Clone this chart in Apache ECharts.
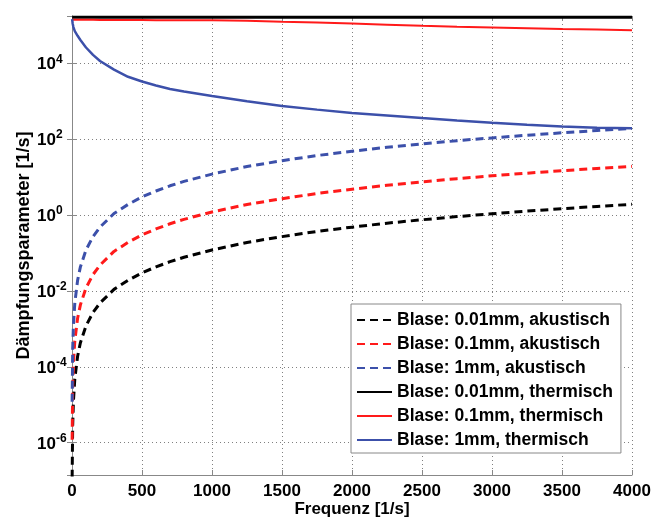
<!DOCTYPE html>
<html>
<head>
	<meta charset="UTF-8">
	<title>Dämpfungsparameter</title>
	<style type="text/css">
		html, body {
			margin: 0;
			padding: 0;
			background: #fff;
		}
		#chart {
			width: 667px;
			height: 518px;
		}
	</style>
</head>
<body>
	<div id="chart"></div>

	<script type="text/javascript" src="https://cdn.jsdelivr.net/npm/echarts@6/dist/echarts.min.js"></script>
	<script type="text/javascript">
		// Frequenz [1/s]
		var freq = [1, 5, 10, 20, 40, 60, 100, 150, 200, 300, 400, 500, 600, 700, 800, 1000,
			1250, 1500, 1750, 2000, 2250, 2500, 2750, 3000, 3250, 3500, 3750, 4000];

		// akustisch (gestrichelt)
		var akust001 = [1.2e-7, 3e-6, 1.2e-5, 4.8e-5, 1.9e-4, 4.3e-4, 1.2e-3, 2.7e-3, 4.8e-3, 0.011, 0.019, 0.030,
			0.043, 0.059, 0.077, 0.12, 0.19, 0.27, 0.37, 0.48, 0.61, 0.75, 0.91, 1.08, 1.27, 1.47, 1.69, 1.92];
		var akust01 = [1.2e-6, 3e-5, 1.2e-4, 4.8e-4, 1.9e-3, 4.3e-3, 0.012, 0.027, 0.048, 0.11, 0.19, 0.30,
			0.43, 0.59, 0.77, 1.2, 1.9, 2.7, 3.7, 4.8, 6.1, 7.5, 9.1, 10.8, 12.7, 14.7, 16.9, 19.2];
		var akust1 = [1.2e-5, 3e-4, 1.2e-3, 4.8e-3, 0.019, 0.043, 0.12, 0.27, 0.48, 1.1, 1.9, 3.0,
			4.3, 5.9, 7.7, 12, 19, 27, 37, 48, 61, 75, 91, 108, 127, 147, 169, 192];

		// thermisch (durchgezogen)
		var therm001 = [1.63e5, 1.63e5, 1.63e5, 1.63e5, 1.63e5, 1.63e5, 1.63e5, 1.63e5, 1.63e5, 1.63e5, 1.63e5, 1.63e5,
			1.63e5, 1.63e5, 1.63e5, 1.63e5, 1.63e5, 1.63e5, 1.63e5, 1.63e5, 1.63e5, 1.63e5, 1.63e5, 1.63e5, 1.63e5, 1.63e5, 1.63e5, 1.63e5];
		var therm01 = [1.40e5, 1.40e5, 1.40e5, 1.40e5, 1.40e5, 1.40e5, 1.40e5, 1.40e5, 1.39e5, 1.39e5, 1.38e5, 1.38e5,
			1.37e5, 1.37e5, 1.36e5, 1.36e5, 1.31e5, 1.24e5, 1.18e5, 1.12e5, 1.04e5, 9.7e4, 9.2e4, 8.8e4, 8.4e4, 8.0e4, 7.7e4, 7.4e4];
		var therm1 = [1.45e5, 1.1e5, 9.0e4, 7.0e4, 5.3e4, 4.1e4, 2.6e4, 1.66e4, 1.15e4, 6.8e3, 4.4e3, 3.3e3,
			2.6e3, 2.1e3, 1.8e3, 1.38e3, 1.0e3, 7.5e2, 6.0e2, 4.9e2, 4.2e2, 3.6e2, 3.1e2, 2.7e2, 2.4e2, 2.15e2, 2.0e2, 1.95e2];

		var names = [
			'Blase: 0.01mm, akustisch',
			'Blase: 0.1mm, akustisch',
			'Blase: 1mm, akustisch',
			'Blase: 0.01mm, thermisch',
			'Blase: 0.1mm, thermisch',
			'Blase: 1mm, thermisch'
		];

		var xTicks = [0, 500, 1000, 1500, 2000, 2500, 3000, 3500, 4000];

		var font = '"Liberation Sans", Arial, sans-serif';
		var black = '#000000', red = '#ff1a1a', blue = '#3c50aa';

		function pairs (ys) {
			return freq.map(function (f, i) { return [f, ys[i]]; });
		}

		function line (name, ys, color, width, dashed) {
			return {
				name: name,
				type: 'line',
				symbol: 'none',
				showSymbol: false,
				data: pairs(ys),
				lineStyle: {
					color: color,
					width: width,
					type: dashed ? [8, 5] : 'solid'
				},
				itemStyle: { color: color }
			};
		}

		var chart = echarts.init(document.getElementById('chart'));

		var gridLine = { show: true, lineStyle: { color: '#808080', type: [1, 3], width: 1 } };
		var axisLine = { show: true, lineStyle: { color: '#888888', width: 1 } };
		var tick = { show: true, inside: true, length: 5, lineStyle: { color: '#888888' } };

		var option = {
			animation: false,
			backgroundColor: '#ffffff',
			grid: { left: 72, right: 35, top: 16, bottom: 43, outerBoundsMode: 'none', containLabel: false },
			legend: {
				orient: 'vertical',
				left: 351,
				top: 304,
				padding: [7, 8, 4, 5],
				itemWidth: 35,
				itemHeight: 14,
				itemGap: 6,
				backgroundColor: '#ffffff',
				borderColor: '#888888',
				borderWidth: 1,
				itemStyle: { color: 'rgba(0,0,0,0)', borderWidth: 0 },
				textStyle: { fontFamily: font, fontWeight: 'bold', fontSize: 17.5, lineHeight: 18, color: '#000' },
				data: names
			},
			xAxis: [{
				type: 'value',
				min: xTicks[0],
				max: xTicks[xTicks.length - 1],
				interval: 500,
				name: 'Frequenz [1/s]',
				nameLocation: 'middle',
				nameGap: 26,
				nameMoveOverlap: false,
				nameTextStyle: { fontFamily: font, fontWeight: 'bold', fontSize: 17, color: '#000' },
				axisLine: axisLine,
				axisTick: tick,
				splitLine: gridLine,
				axisLabel: {
					fontFamily: font, fontWeight: 'bold', fontSize: 17, color: '#000', margin: 8,
					formatter: function (v) { return String(v); }
				}
			}, {
				type: 'value',
				position: 'top',
				min: xTicks[0],
				max: xTicks[xTicks.length - 1],
				interval: 500,
				axisLine: axisLine,
				axisTick: tick,
				splitLine: { show: false },
				axisLabel: { show: false }
			}],
			yAxis: [{
				type: 'log',
				logBase: 100,
				min: 1.41e-7,
				max: 1.76e5,
				name: 'Dämpfungsparameter [1/s]',
				nameLocation: 'middle',
				nameGap: 39,
				nameMoveOverlap: false,
				nameTextStyle: { fontFamily: font, fontWeight: 'bold', fontSize: 18, color: '#000' },
				axisLine: axisLine,
				axisTick: tick,
				splitLine: gridLine,
				axisLabel: {
					align: 'left',
					margin: 35,
					showMinLabel: true,
					showMaxLabel: true,
					formatter: function (v) {
						var e = Math.log(v) / Math.LN10;
						var r = Math.round(e);
						if (Math.abs(e - r) > 0.01 || r % 2 !== 0) return '';
						return '{b|10}{s|' + r + '}';
					},
					rich: {
						b: { fontFamily: font, fontWeight: 'bold', fontSize: 17, lineHeight: 20, color: '#000', verticalAlign: 'bottom' },
						s: { fontFamily: font, fontWeight: 'bold', fontSize: 12, lineHeight: 12, color: '#000', verticalAlign: 'top', padding: [0, 0, 14, 0] }
					}
				}
			}, {
				type: 'log',
				logBase: 100,
				min: 1.41e-7,
				max: 1.76e5,
				position: 'right',
				axisLine: axisLine,
				axisTick: tick,
				splitLine: { show: false },
				axisLabel: { show: false }
			}],
			series: [
				line(names[0], akust001, black, 3, true),
				line(names[1], akust01, red, 3, true),
				line(names[2], akust1, blue, 3, true),
				line(names[3], therm001, black, 3, false),
				line(names[4], therm01, red, 2, false),
				line(names[5], therm1, blue, 2.5, false)
			]
		};

		chart.setOption(option);
	</script>
</body>
</html>
